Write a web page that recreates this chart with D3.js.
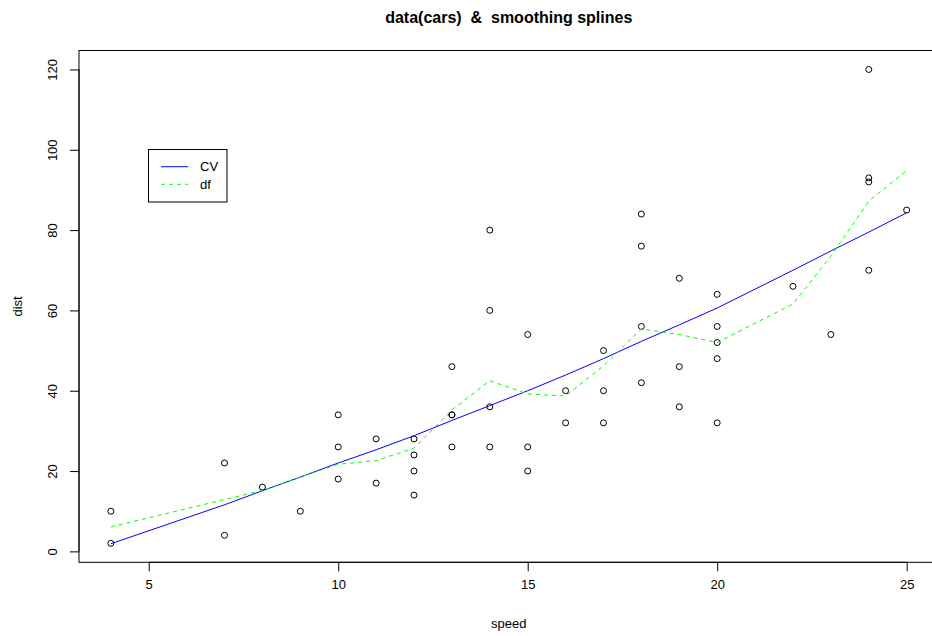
<!DOCTYPE html>
<html>
<head>
<meta charset="utf-8">
<script src="https://cdn.jsdelivr.net/npm/d3@7"></script>
<style>
    body { margin: 0; background: #ffffff; }
    svg text { font-family: "Liberation Sans", Arial, sans-serif; white-space: pre; }
</style>
</head>
<body>
<div id="chart"></div>
<script>
// cars data
const speed = [4, 4, 7, 7, 8, 9, 10, 10, 10, 11, 11, 12, 12, 12, 12, 13, 13, 13, 13, 14, 14, 14, 14, 15, 15, 15, 16, 16, 17, 17, 17, 18, 18, 18, 18, 19, 19, 19, 20, 20, 20, 20, 20, 22, 23, 24, 24, 24, 24, 25];
const dist = [2, 10, 4, 22, 16, 10, 18, 26, 34, 17, 28, 14, 20, 24, 28, 26, 34, 34, 46, 26, 36, 60, 80, 20, 26, 54, 32, 40, 32, 40, 50, 42, 56, 76, 84, 36, 46, 68, 32, 48, 52, 56, 64, 66, 54, 70, 92, 93, 120, 85];

// spline fits at the unique speeds
const splineX = [4, 7, 8, 9, 10, 11, 12, 13, 14, 15, 16, 17, 18, 19, 20, 22, 23, 24, 25];
const fitCV = [1.9, 11.6, 15.1, 18.5, 22.0, 25.3, 28.8, 32.6, 36.3, 40.0, 43.9, 48.0, 52.3, 56.4, 60.6, 70.0, 74.8, 79.5, 84.3];
const fitDf = [6.1, 12.9, 15.2, 18.5, 21.7, 22.6, 25.7, 35.2, 42.5, 39.2, 38.7, 46.2, 55.4, 54.0, 52.0, 61.6, 73.5, 87.2, 94.8];

const xTicks = [5, 10, 15, 20, 25];
const yTicks = [0, 20, 40, 60, 80, 100, 120];
const legendLabels = ['CV', 'df'];

const W = 932, H = 636;
const plot = { left: 79, right: 938.5, top: 50.5, bottom: 562.3 };
const fs = 13;

const svg = d3.select('#chart').append('svg')
    .attr('width', W).attr('height', H);

// R style 4% padding
const xr = d3.extent(speed), yr = d3.extent(dist);
const xpad = (xr[1] - xr[0]) * 0.04, ypad = (yr[1] - yr[0]) * 0.04;
const x = d3.scaleLinear().domain([xr[0] - xpad, xr[1] + xpad]).range([plot.left, plot.right]);
const y = d3.scaleLinear().domain([yr[0] - ypad, yr[1] + ypad]).range([plot.bottom, plot.top]);

// box
svg.append('rect')
    .attr('x', plot.left).attr('y', plot.top)
    .attr('width', plot.right - plot.left).attr('height', plot.bottom - plot.top)
    .attr('fill', 'none').attr('stroke', '#000').attr('stroke-width', 1);

// axes
const xAxis = d3.axisBottom(x).tickValues(xTicks).tickSize(9).tickPadding(8).tickSizeOuter(0);
const gx = svg.append('g').attr('transform', `translate(0,${plot.bottom})`).call(xAxis);
gx.select('.domain').attr('d', `M${x(xTicks[0])},0H${x(xTicks[xTicks.length - 1])}`);
gx.selectAll('text').attr('font-size', fs).attr('fill', '#000')
    .attr('font-family', '"Liberation Sans", Arial, sans-serif');

const yAxis = d3.axisLeft(y).tickValues(yTicks).tickSize(9).tickPadding(0).tickSizeOuter(0);
const gy = svg.append('g').attr('transform', `translate(${plot.left},0)`).call(yAxis);
gy.select('.domain').attr('d', `M0,${y(yTicks[0])}V${y(yTicks[yTicks.length - 1])}`);
gy.selectAll('.tick text')
    .attr('font-size', fs).attr('fill', '#000')
    .attr('font-family', '"Liberation Sans", Arial, sans-serif')
    .attr('x', null).attr('dy', null)
    .attr('text-anchor', 'middle')
    .attr('transform', 'translate(-27,0) rotate(-90)')
    .attr('dy', '0.35em');

// labels
svg.append('text').attr('x', (plot.left + plot.right) / 2).attr('y', 23)
    .attr('text-anchor', 'middle').attr('font-size', 16).attr('font-weight', 'bold')
    .attr('xml:space', 'preserve')
    .text('data(cars)  &  smoothing splines');
svg.append('text').attr('x', (plot.left + plot.right) / 2).attr('y', 628)
    .attr('text-anchor', 'middle').attr('font-size', fs).text('speed');
svg.append('text')
    .attr('transform', `translate(22,${(plot.top + plot.bottom) / 2}) rotate(-90)`)
    .attr('text-anchor', 'middle').attr('font-size', fs).text('dist');

// points
svg.append('g').selectAll('circle')
    .data(speed.map((s, i) => ({ s, d: dist[i] })))
    .join('circle')
    .attr('cx', (d) => x(d.s)).attr('cy', (d) => y(d.d))
    .attr('r', 3).attr('fill', 'none').attr('stroke', '#000').attr('stroke-width', 1);

// spline lines
const line = d3.line().x((d) => x(d[0])).y((d) => y(d[1]));
svg.append('path')
    .attr('d', line(splineX.map((s, i) => [s, fitCV[i]])))
    .attr('fill', 'none').attr('stroke', '#0000ff').attr('stroke-width', 1);
svg.append('path')
    .attr('d', line(splineX.map((s, i) => [s, fitDf[i]])))
    .attr('fill', 'none').attr('stroke', '#00ff00').attr('stroke-width', 1)
    .attr('stroke-dasharray', '4,4');

// legend
const lg = svg.append('g');
lg.append('rect').attr('x', 148.5).attr('y', 149.5).attr('width', 78.5).attr('height', 52.5)
    .attr('fill', '#fff').attr('stroke', '#000').attr('stroke-width', 1);
const legendColors = ['#0000ff', '#00ff00'];
const legendDash = [null, '4,4'];
legendLabels.forEach((lab, i) => {
    const ly = 166.7 + i * 17.6;
    lg.append('line').attr('x1', 161).attr('x2', 188).attr('y1', ly).attr('y2', ly)
        .attr('stroke', legendColors[i]).attr('stroke-width', 1)
        .attr('stroke-dasharray', legendDash[i]);
    lg.append('text').attr('x', 200).attr('y', ly).attr('dy', '0.35em')
        .attr('font-size', fs).text(lab);
});
</script>
</body>
</html>
